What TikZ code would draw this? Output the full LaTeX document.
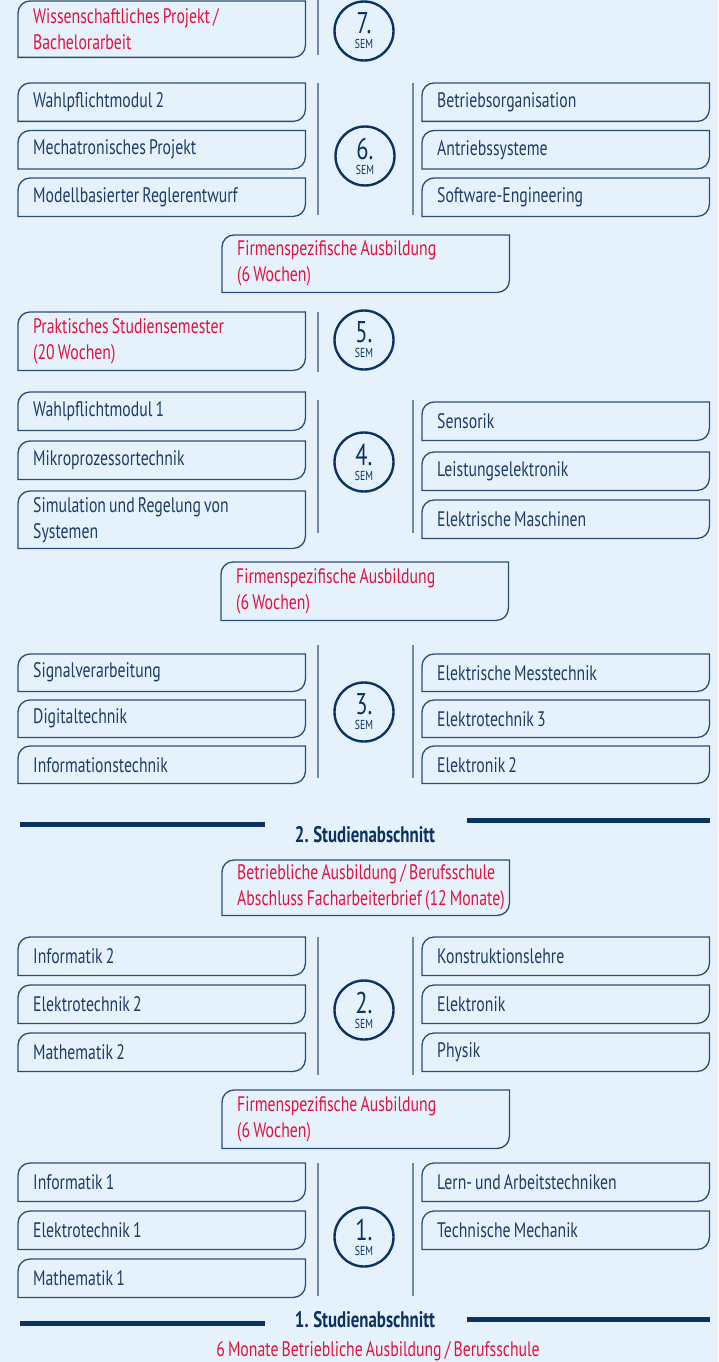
\documentclass[tikz,border=0pt]{standalone}
\usepackage{fontspec}
\setmainfont[FakeStretch=0.75, WordSpace=0.75]{PT Sans}
\usetikzlibrary{positioning}
\definecolor{grund}{HTML}{E6F2FB}
\definecolor{navy}{HTML}{0B3260}
\definecolor{schrift}{HTML}{1E3C64}
\definecolor{rahmen}{HTML}{2C4D76}
\definecolor{trenner}{HTML}{6F8BA8}
\definecolor{rot}{HTML}{E0133F}
\newcommand{\modulrahmen}[1]{%
  \begin{pgfinterruptpath}
  \draw [rahmen, line width=1.3pt] (#1.south west) -- ([yshift=-12pt]#1.north west)
    arc [start angle=180, end angle=90, radius=12pt] -- (#1.north east)
    -- ([yshift=12pt]#1.south east) arc [start angle=0, end angle=-90, radius=12pt] -- cycle;
  \end{pgfinterruptpath}}
\newcommand{\semnr}[1]{{\fontsize{30}{30}\selectfont #1.}\\[2pt]SEM}
\tikzset{
modul/.style={shape=rectangle, anchor=north west, minimum width=287pt, minimum height=38pt, text width=257pt, inner xsep=15pt, inner ysep=0pt, align=flush left, text=schrift, font=\fontsize{21}{26}\selectfont, append after command={\pgfextra{\modulrahmen{\tikzlastnode}}}}, hinweis/.style={modul, text=rot}, sem/.style={shape=circle, draw=navy, line width=2.4pt, minimum size=59pt, inner sep=0pt, align=center, text=navy, font=\fontsize{13}{13}\selectfont}, trennlinie/.style={trenner, line width=1.8pt}, balken/.style={navy, line width=5pt}, abschnitt/.style={text=navy, font=\fontsize{22.5}{24}\selectfont\bfseries}}

\begin{document}
\begin{tikzpicture}[x=1pt, y=1pt]
\path [use as bounding box, fill=grund] (0,0) rectangle (718,-1362);
% 7. Semester
\node [hinweis, minimum height=56pt] (s7l-1) at (18,-1) {Wissenschaftliches Projekt /\\Bachelorarbeit};
\node [sem] (sem-7) at (364,-31) {\semnr{7}};
\draw [trennlinie] (318,0) -- (318,-55);
% 6. Semester
\foreach \fach [count=\i, evaluate={\y=-83-47.5*(\i-1);}] in {Wahlpflichtmodul 2, Mechatronisches Projekt, Modellbasierter Reglerentwurf}
  \node [modul] (s6l-\i) at (18,\y) {\fach};
\foreach \fach [count=\i, evaluate={\y=-83-47.5*(\i-1);}] in {Betriebsorganisation, Antriebssysteme, Software-Engineering}
  \node [modul] (s6r-\i) at (422,\y) {\fach};
\node [sem] (sem-6) at (365,-156) {\semnr{6}};
\node [hinweis, minimum height=57pt] (fa-3) at (222,-235) {Firmenspezifische Ausbildung\\(6 Wochen)};
% 5. Semester
\node [hinweis, minimum height=58pt] (s5l-1) at (18,-312) {Praktisches Studiensemester\\(20 Wochen)};
\node [sem] (sem-5) at (364,-340) {\semnr{5}};
\draw [trennlinie] (318,-312) -- (318,-372);
% 4. Semester
\foreach \fach/\y [count=\i] in {Wahlpflichtmodul 1/392, Mikroprozessortechnik/441}
  \node [modul] (s4l-\i) at (18,-\y) {\fach};
\node [modul, minimum height=57pt] (s4l-3) at (18,-491) {Simulation und Regelung von\\Systemen};
\foreach \fach/\y [count=\i] in {Sensorik/402, Leistungselektronik/452, Elektrische Maschinen/500}
  \node [modul] (s4r-\i) at (422,-\y) {\fach};
\node [sem] (sem-4) at (364,-462) {\semnr{4}};
\node [hinweis, minimum height=58pt] (fa-2) at (221,-562) {Firmenspezifische Ausbildung\\(6 Wochen)};
% 3. Semester
\foreach \fach [count=\i, evaluate={\y=-654-46*(\i-1);}] in {Signalverarbeitung, Digitaltechnik, Informationstechnik}
  \node [modul, minimum height=37pt] (s3l-\i) at (18,\y) {\fach};
\foreach \fach [count=\i, evaluate={\y=-654-46*(\i-1);}] in {Elektrische Messtechnik, Elektrotechnik 3, Elektronik 2}
  \node [modul, minimum height=37pt] (s3r-\i) at (422,\y) {\fach};
\node [sem] (sem-3) at (364,-712) {\semnr{3}};
% 2. Studienabschnitt
\node [abschnitt] (ab-2) at (365,-835) {2. Studienabschnitt};
\draw [balken] (20,-824) -- (265,-824);
\draw [balken] (467,-820.5) -- (710,-820.5);
\node [hinweis, minimum height=55pt] (ba-1) at (222,-860) {\mbox{Betriebliche Ausbildung / Berufsschule}\\\mbox{Abschluss Facharbeiterbrief (12 Monate)}};
% 2. Semester
\foreach \fach [count=\i, evaluate={\y=-937-48*(\i-1);}] in {Informatik 2, Elektrotechnik 2, Mathematik 2}
  \node [modul] (s2l-\i) at (18,\y) {\fach};
\foreach \fach [count=\i, evaluate={\y=-937-48*(\i-1);}] in {Konstruktionslehre, Elektronik, Physik}
  \node [modul] (s2r-\i) at (422,\y) {\fach};
\node [sem] (sem-2) at (364,-1010) {\semnr{2}};
\node [hinweis, minimum height=58pt] (fa-1) at (222,-1090) {Firmenspezifische Ausbildung\\(6 Wochen)};
% 1. Semester
\foreach \fach [count=\i, evaluate={\y=-1163-48*(\i-1);}] in {Informatik 1, Elektrotechnik 1, Mathematik 1}
  \node [modul] (s1l-\i) at (18,\y) {\fach};
\foreach \fach [count=\i, evaluate={\y=-1163-48*(\i-1);}] in {Lern- und Arbeitstechniken, Technische Mechanik}
  \node [modul] (s1r-\i) at (422,\y) {\fach};
\node [sem] (sem-1) at (364,-1237) {\semnr{1}};
% Trennlinien der Semester
\foreach \oben/\unten in {83/215, 400/533, 645/778, 937/1075, 1163/1296} {
  \draw [trennlinie] (318,-\oben) -- (318,-\unten);
  \draw [trennlinie] (413,-\oben) -- (413,-\unten);
}
% 1. Studienabschnitt
\node [abschnitt] (ab-1) at (365,-1320) {1. Studienabschnitt};
\draw [balken] (20,-1323) -- (265,-1323);
\draw [balken] (467,-1319) -- (710,-1319);
\node [text=rot, font=\fontsize{21}{22}\selectfont] (praxis) at (378,-1351) {6 Monate Betriebliche Ausbildung / Berufsschule};
\end{tikzpicture}
\end{document}
